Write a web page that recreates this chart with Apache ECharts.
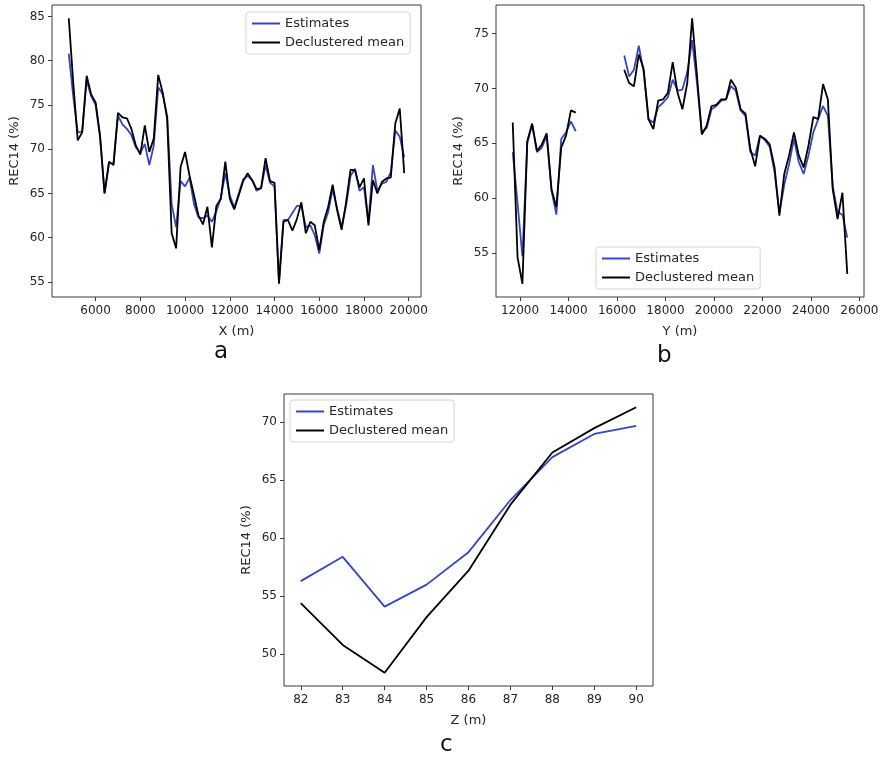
<!DOCTYPE html>
<html>
<head>
<meta charset="utf-8">
<script src="https://cdn.jsdelivr.net/npm/echarts@6/dist/echarts.min.js"></script>
<style>
  html, body { margin: 0; padding: 0; background: #ffffff; }
  #chart { width: 882px; height: 762px; }
</style>
</head>
<body>
<div id="chart"></div>
<script>
// ---- Panel a: REC14 along X ----
const xPositions = [
  4800, 5000, 5200, 5400, 5600, 5800, 6000, 6200, 6400, 6600,
  6800, 7000, 7200, 7400, 7600, 7800, 8000, 8200, 8400, 8600,
  8800, 9000, 9200, 9400, 9600, 9800, 10000, 10200, 10400, 10600,
  10800, 11000, 11200, 11400, 11600, 11800, 12000, 12200, 12400, 12600,
  12800, 13000, 13200, 13400, 13600, 13800, 14000, 14200, 14400, 14600,
  14800, 15000, 15200, 15400, 15600, 15800, 16000, 16200, 16400, 16600,
  16800, 17000, 17200, 17400, 17600, 17800, 18000, 18200, 18400, 18600,
  18800, 19000, 19200, 19400, 19600, 19800
];
const xEstimates = [
  80.8, 76.0, 71.9, 72.0, 77.8, 76.0, 75.0, 71.3, 65.0, 68.4,
  68.4, 73.8, 72.8, 72.3, 71.6, 70.2, 69.6, 70.6, 68.2, 70.4,
  77.0, 76.2, 73.8, 63.8, 61.2, 66.4, 65.8, 66.8, 63.8, 62.3,
  62.2, 62.5, 61.8, 63.0, 64.5, 67.3, 64.8, 63.4, 65.0, 66.6,
  67.0, 66.5, 65.3, 65.6, 68.2, 66.2, 65.8, 55.0, 62.0, 62.0,
  62.8, 63.6, 63.6, 61.2, 61.4, 60.3, 58.2, 61.4, 62.9, 65.5,
  63.3, 61.2, 63.6, 67.0, 67.8, 65.3, 65.7, 61.8, 68.2, 65.3,
  66.1, 66.3, 67.4, 72.1, 71.4, 69.1
];
const xDeclustered = [
  84.8, 77.5, 71.0, 71.9, 78.3, 76.2, 75.3, 71.5, 65.0, 68.6,
  68.2, 74.1, 73.6, 73.5, 72.3, 70.4, 69.4, 72.7, 69.7, 71.2,
  78.4, 76.4, 73.4, 60.5, 58.8, 68.0, 69.7, 67.0, 64.8, 62.5,
  61.5, 63.5, 58.9, 63.6, 64.4, 68.6, 64.4, 63.2, 64.8, 66.4,
  67.3, 66.5, 65.5, 65.6, 69.0, 66.4, 66.2, 54.8, 61.8, 62.0,
  60.8, 62.1, 64.0, 60.5, 61.8, 61.4, 58.6, 61.8, 63.5, 66.0,
  63.1, 60.9, 64.0, 67.7, 67.6, 65.7, 66.7, 61.4, 66.5, 65.0,
  66.3, 66.7, 66.8, 72.9, 74.6, 67.3
];
const xTicks = [6000, 8000, 10000, 12000, 14000, 16000, 18000, 20000];
const xPanelYTicks = [55, 60, 65, 70, 75, 80, 85];

// ---- Panel b: REC14 along Y (two sampled stretches) ----
const ySouthPositions = [11700, 11900, 12100, 12300, 12500, 12700, 12900, 13100, 13300, 13500, 13700, 13900, 14100, 14300];
const ySouthEstimates = [64.2, 59.5, 54.7, 65.0, 66.7, 64.2, 64.6, 65.7, 60.7, 58.5, 65.4, 66.0, 67.0, 66.1];
const ySouthDeclustered = [66.9, 54.6, 52.2, 65.2, 66.8, 64.3, 64.9, 65.9, 60.8, 59.2, 64.6, 65.7, 68.0, 67.8];
const yNorthPositions = [
  16300, 16500, 16700, 16900, 17100, 17300, 17500, 17700, 17900, 18100,
  18300, 18500, 18700, 18900, 19100, 19300, 19500, 19700, 19900, 20100,
  20300, 20500, 20700, 20900, 21100, 21300, 21500, 21700, 21900, 22100,
  22300, 22500, 22700, 22900, 23100, 23300, 23500, 23700, 23900, 24100,
  24300, 24500, 24700, 24900, 25100, 25300, 25500
];
const yNorthEstimates = [
  73.0, 71.1, 71.7, 73.9, 71.5, 67.2, 66.9, 68.3, 68.7, 69.2,
  70.8, 69.8, 69.9, 71.5, 74.4, 70.5, 66.0, 66.4, 68.1, 68.4,
  68.9, 69.0, 70.2, 69.8, 68.0, 67.5, 64.2, 63.9, 65.7, 65.3,
  64.7, 62.4, 58.7, 61.2, 63.1, 65.4, 63.3, 62.2, 63.9, 66.0,
  67.2, 68.4, 67.5, 61.1, 58.7, 58.5, 56.4
];
const yNorthDeclustered = [
  71.7, 70.5, 70.2, 73.1, 71.8, 67.2, 66.3, 68.9, 69.0, 69.6,
  72.4, 69.6, 68.1, 70.5, 76.4, 71.2, 65.8, 66.6, 68.4, 68.5,
  69.0, 69.0, 70.8, 70.1, 68.1, 67.7, 64.5, 62.9, 65.7, 65.4,
  64.9, 62.8, 58.4, 62.2, 63.9, 66.0, 63.9, 62.8, 64.8, 67.4,
  67.2, 70.4, 69.0, 60.8, 58.1, 60.5, 53.1
];
const yTicks = [12000, 14000, 16000, 18000, 20000, 22000, 24000, 26000];
const yPanelYTicks = [55, 60, 65, 70, 75];

// ---- Panel c: REC14 by elevation Z ----
const zLevels = [82, 83, 84, 85, 86, 87, 88, 89, 90];
const zEstimates = [56.3, 58.4, 54.1, 56.0, 58.8, 63.3, 67.0, 69.0, 69.7];
const zDeclustered = [54.4, 50.8, 48.4, 53.2, 57.2, 62.9, 67.4, 69.5, 71.3];
const zPanelYTicks = [50, 55, 60, 65, 70];

const SERIES_NAMES = ['Estimates', 'Declustered mean'];
const BLUE = '#3446c2';
const BLACK = '#000000';
const FONT = 'DejaVu Sans';
const TEXT = '#262626';
const FRAME = '#3a3a3a';

function pairs(xs, ys) { return xs.map((x, i) => [x, ys[i]]); }

// 5% padding on either side of the data, like a default autoscaled axis
function paddedRange(values) {
  const lo = Math.min(...values), hi = Math.max(...values);
  const m = (hi - lo) * 0.05;
  return [lo - m, hi + m];
}

function valueAxis(gridIndex, range, ticks, name, isY, nameGap) {
  return {
    type: 'value', gridIndex: gridIndex,
    min: range[0], max: range[1],
    name: name, nameLocation: 'middle', nameGap: nameGap,
    nameRotate: isY ? 90 : 0,
    nameTextStyle: { fontFamily: FONT, fontSize: 13, color: TEXT },
    axisLine: { show: false },
    axisTick: { show: true, customValues: ticks, length: 4, inside: false, lineStyle: { color: FRAME, width: 1 } },
    axisLabel: {
      show: true, customValues: ticks, fontFamily: FONT, fontSize: 12, color: TEXT,
      margin: isY ? 7 : 8,
      formatter: function (v) { return String(v); }
    },
    splitLine: { show: false }
  };
}

function lineSeries(name, color, data, xi, yi) {
  return {
    type: 'line', name: name, data: data,
    xAxisIndex: xi, yAxisIndex: yi,
    color: color,
    showSymbol: false, symbol: 'none',
    lineStyle: { color: color, width: 1.8 },
    silent: true, animation: false
  };
}

function legendBox(pos) {
  return Object.assign({
    orient: 'vertical', data: SERIES_NAMES,
    icon: 'rect', itemWidth: 28, itemHeight: 2, itemGap: 6,
    textStyle: { fontFamily: FONT, fontSize: 13, color: TEXT },
    borderColor: '#d4d4d4', borderWidth: 1, borderRadius: 3,
    padding: [5, 6, 5, 6], backgroundColor: 'rgba(255,255,255,0.85)',
    selectedMode: false
  }, pos);
}

const gridStyle = { show: true, borderColor: FRAME, borderWidth: 1, backgroundColor: '#ffffff', containLabel: false };

const xRangeA = paddedRange(xPositions);
const yRangeA = paddedRange(xEstimates.concat(xDeclustered));
const xRangeB = paddedRange(ySouthPositions.concat(yNorthPositions));
const yRangeB = paddedRange(ySouthEstimates.concat(ySouthDeclustered, yNorthEstimates, yNorthDeclustered));
const xRangeC = paddedRange(zLevels);
const yRangeC = paddedRange(zEstimates.concat(zDeclustered));

const chart = echarts.init(document.getElementById('chart'), null, { renderer: 'canvas' });

chart.setOption({
  backgroundColor: '#ffffff',
  animation: false,
  textStyle: { fontFamily: FONT },
  grid: [
    Object.assign({ left: 52, top: 5, width: 369, height: 292 }, gridStyle),
    Object.assign({ left: 496, top: 5, width: 368, height: 292 }, gridStyle),
    Object.assign({ left: 284, top: 394, width: 369, height: 292 }, gridStyle)
  ],
  xAxis: [
    valueAxis(0, xRangeA, xTicks, 'X (m)', false, 28),
    valueAxis(1, xRangeB, yTicks, 'Y (m)', false, 28),
    valueAxis(2, xRangeC, zLevels, 'Z (m)', false, 28)
  ],
  yAxis: [
    valueAxis(0, yRangeA, xPanelYTicks, 'REC14 (%)', true, 31),
    valueAxis(1, yRangeB, yPanelYTicks, 'REC14 (%)', true, 31),
    valueAxis(2, yRangeC, zPanelYTicks, 'REC14 (%)', true, 31)
  ],
  legend: [
    legendBox({ left: 246, top: 12 }),
    legendBox({ left: 596, top: 247 }),
    legendBox({ left: 290, top: 400 })
  ],
  series: [
    lineSeries('Estimates', BLUE, pairs(xPositions, xEstimates), 0, 0),
    lineSeries('Declustered mean', BLACK, pairs(xPositions, xDeclustered), 0, 0),
    lineSeries('Estimates', BLUE, pairs(ySouthPositions, ySouthEstimates), 1, 1),
    lineSeries('Estimates', BLUE, pairs(yNorthPositions, yNorthEstimates), 1, 1),
    lineSeries('Declustered mean', BLACK, pairs(ySouthPositions, ySouthDeclustered), 1, 1),
    lineSeries('Declustered mean', BLACK, pairs(yNorthPositions, yNorthDeclustered), 1, 1),
    lineSeries('Estimates', BLUE, pairs(zLevels, zEstimates), 2, 2),
    lineSeries('Declustered mean', BLACK, pairs(zLevels, zDeclustered), 2, 2)
  ],
  graphic: [
    { type: 'text', left: 214, top: 341, style: { text: 'a', font: '23px "DejaVu Sans"', fill: '#111' } },
    { type: 'text', left: 657, top: 345, style: { text: 'b', font: '23px "DejaVu Sans"', fill: '#111' } },
    { type: 'text', left: 440, top: 734, style: { text: 'c', font: '23px "DejaVu Sans"', fill: '#111' } }
  ]
});
</script>
</body>
</html>
